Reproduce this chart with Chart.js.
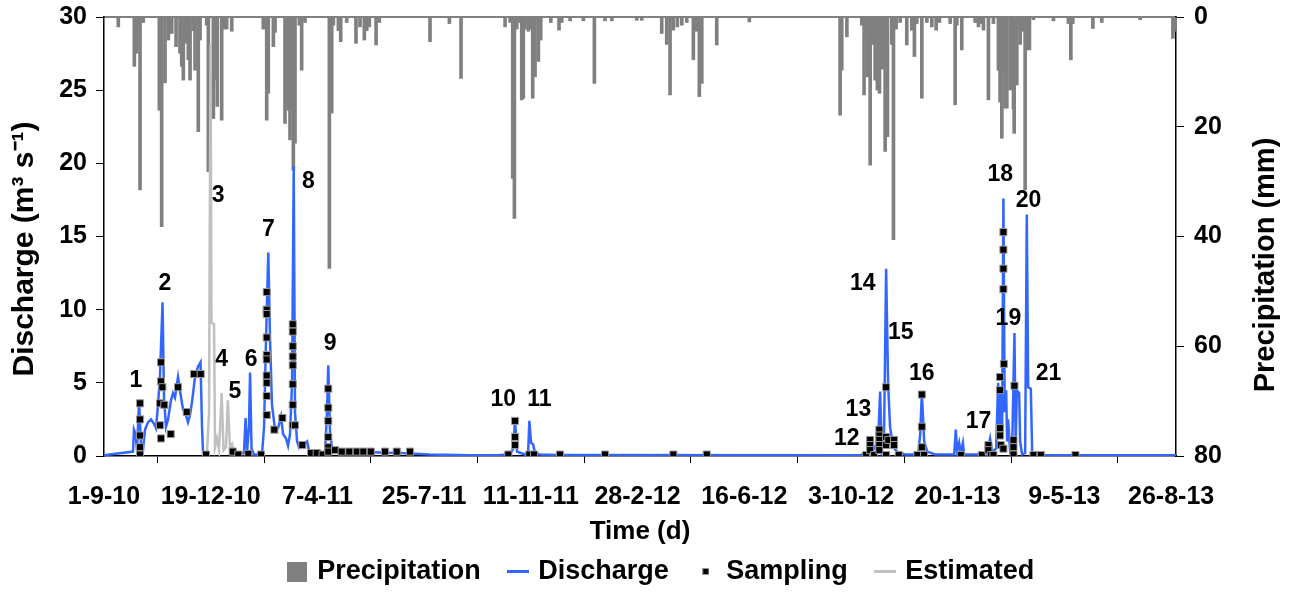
<!DOCTYPE html>
<html lang="en">
<head>
<meta charset="UTF-8">
<title>Discharge, precipitation and sampling</title>
<script src="https://cdn.jsdelivr.net/npm/chart.js"></script>
<style>
  html, body { margin: 0; padding: 0; background: #fff; }
</style>
</head>
<body>
<canvas id="flowChart" width="1298" height="592"></canvas>
<script>
// x values are days counted from 1-9-10
const tickDays = [0, 109, 218, 327, 436, 545, 654, 763, 872, 981, 1090];
const tickLabels = ['1-9-10', '19-12-10', '7-4-11', '25-7-11', '11-11-11', '28-2-12',
                    '16-6-12', '3-10-12', '20-1-13', '9-5-13', '26-8-13'];

// daily precipitation (mm), right axis
const rainDays = [14.6, 31.0, 33.4, 34.4, 36.8, 40.1, 56.5, 58.9, 62.3, 65.7, 69.2, 73.6, 77.6, 79.4,
  81.0, 83.8, 86.1, 87.9, 91.2, 93.0, 96.3, 98.1, 104.9, 106.6, 111.7, 113.4, 115.7, 120.2, 122.6,
  125.3, 130.5, 162.7, 166.2, 167.8, 173.0, 174.7, 184.9, 186.6, 188.3, 190.0, 191.8, 193.4, 195.1,
  199.5, 201.9, 205.3, 230.2, 232.6, 234.3, 239.4, 241.8, 247.9, 257.4, 261.5, 265.9, 268.4, 271.0,
  277.9, 281.2, 333.0, 352.8, 364.7, 409.7, 414.8, 417.5, 419.2, 421.6, 424.3, 426.7, 428.3, 430.1,
  433.5, 436.9, 437.9, 440.3, 443.7, 446.1, 456.4, 464.8, 467.6, 476.1, 489.7, 500.9, 511.8, 518.7,
  544.2, 549.3, 569.7, 574.8, 578.2, 581.6, 585.7, 590.2, 595.3, 602.0, 605.5, 608.1, 610.6, 625.9,
  659.2, 751.9, 753.6, 758.8, 774.1, 776.4, 778.5, 780.2, 782.6, 785.3, 787.7, 790.0, 792.1, 793.8,
  795.5, 797.9, 800.3, 804.7, 806.4, 809.1, 813.2, 820.0, 825.1, 827.8, 830.2, 835.4, 840.5, 845.6,
  850.0, 853.4, 864.3, 869.4, 871.1, 876.2, 889.8, 893.2, 896.7, 898.3, 903.4, 908.5, 913.6, 915.3,
  917.1, 919.4, 920.4, 922.2, 925.6, 927.3, 929.0, 929.7, 932.4, 934.1, 935.8, 938.5, 940.9, 942.6,
  945.3, 949.4, 969.8, 985.1, 987.6, 989.6, 1010.1, 1019.2, 1058.4, 1091.8, 1093.1];
const rainMm = [1.8, 9.0, 6.6, 2.0, 31.5, 1.0, 17.0, 38.2, 12.0, 4.2, 3.0, 5.4, 6.6, 9.0,
  11.5, 4.8, 7.8, 11.5, 2.5, 9.7, 20.9, 4.2, 1.5, 28.2, 18.5, 11.5, 16.3, 18.8, 2.2,
  2.2, 2.6, 2.2, 18.8, 13.9, 5.4, 2.8, 19.4, 15.7, 17.0, 22.4, 17.0, 27.9, 23.0,
  1.5, 9.7, 1.0, 45.8, 17.5, 1.5, 2.5, 4.5, 1.0, 4.8, 1.8, 4.2, 2.5, 1.8,
  5.1, 1.0, 4.5, 1.2, 11.2, 1.8, 1.0, 29.4, 36.7, 2.2, 1.0, 15.1, 14.8, 2.2,
  2.6, 2.2, 14.8, 10.9, 8.1, 4.2, 1.0, 2.4, 1.0, 0.7, 0.7, 12.1, 0.7, 0.7,
  0.6, 0.6, 3.0, 5.0, 14.2, 2.4, 1.8, 1.5, 1.0, 7.8, 2.6, 14.5, 12.1, 5.1,
  0.9, 17.9, 9.7, 3.6, 1.5, 14.2, 3.2, 10.9, 27.0, 5.0, 11.5, 13.3, 13.9, 7.5,
  9.5, 24.5, 21.8, 5.0, 40.6, 2.2, 1.0, 5.1, 2.4, 7.2, 1.2, 14.8, 1.0, 1.8,
  2.4, 1.0, 1.2, 16.0, 1.5, 6.0, 1.0, 1.8, 1.2, 2.4, 15.1, 1.2, 9.7, 15.5,
  22.1, 9.9, 16.6, 16.6, 13.3, 5.0, 16.8, 21.2, 12.4, 1.5, 5.0, 2.6, 31.5, 6.0,
  6.0, 0.5, 0.7, 1.2, 7.8, 1.2, 2.1, 1.0, 0.5, 3.9, 2.6];

// measured discharge (m3/s), left axis; null = gap covered by the estimate
const flowDays = [0, 29.6, 30.6, 32.2, 33.7, 35.8, 37.8, 39.8, 41.9, 44.9, 48.0, 51.1, 53.1, 55.2,
  57.2, 59.8, 61.3, 63.3, 65.4, 68.4, 70.5, 72.5, 75.6, 78.7, 80.7, 82.7, 85.8, 87.9, 89.9, 93.0,
  96.0, 98.6, 100.1, 101.1, 104.2, null,
  132.8, 138.9, 143.0, 144.6, 146.1, 148.1, 149.2, 150.7, 153.2, 161.4, 163.5, 165.5, 167.8, 169.6,
  171.6, 174.7, 177.8, 180.8, 182.9, 185.9, 188.0, 190.0, 192.1, 193.8, 195.1, 197.2, 199.2, 201.3,
  204.3, 207.4, 209.4, 213.5, 220.7, 225.8, 227.8, 229.1, 230.9, 232.9, 237.0, 246.2, 271.7, 302.4,
  333.0, 373.9, 404.6, 414.8, 417.9, 419.9, 421.9, 430.1, 433.2, 434.5, 436.2, 438.3, 440.3, 445.4,
  465.8, 772.3, 778.5, 782.6, 786.6, 790.7, 792.8, 794.3, 796.8, 798.9, 800.9, 802.9, 806.0, 810.1,
  818.3, 831.6, 833.7, 835.4, 837.8, 840.8, 849.0, 868.4, 870.1, 871.4, 873.5, 875.0, 877.3, 878.6,
  900.0, 903.1, 905.1, 907.2, 911.3, 913.3, 914.9, 916.4, 917.4, 918.7, 920.0, 921.5, 922.5, 923.5,
  925.6, 927.6, 930.0, 931.2, 932.4, 934.8, 935.8, 937.8, 940.9, 942.6, 944.0, 946.7, 948.1, 951.1,
  1095];
const flowQ = [0.05, 0.3, 1.8, 1.5, 0.4, 3.7, 0.8, 0.4, 1.8, 2.3, 2.5, 2.2, 1.9, 3.5,
  5.5, 10.5, 4.0, 2.0, 2.5, 3.8, 4.3, 4.0, 5.4, 4.0, 3.2, 3.0, 2.3, 2.8, 3.7, 5.4,
  6.1, 6.4, 2.0, 0.3, 0.1, null,
  0.2, 0.15, 0.2, 2.6, 0.3, 2.0, 5.7, 0.5, 0.1, 0.1, 2.0, 8.0, 13.9, 8.0,
  3.5, 1.8, 1.9, 2.7, 1.5, 1.2, 0.7, 1.5, 5.0, 19.8, 3.0, 1.0, 0.6, 0.9,
  0.8, 1.0, 0.4, 0.2, 0.15, 0.2, 3.0, 6.2, 1.5, 0.6, 0.4, 0.3, 0.25, 0.2,
  0.1, 0.05, 0.06, 0.1, 0.5, 2.4, 0.3, 0.1, 0.2, 2.4, 0.9, 0.8, 0.2, 0.1,
  0.07, 0.05, 0.2, 0.6, 0.5, 1.0, 4.4, 0.6, 1.5, 12.8, 5.0, 2.0, 0.6, 0.3,
  0.1, 0.1, 1.5, 4.3, 1.0, 0.3, 0.1, 0.1, 1.8, 0.3, 0.9, 0.2, 0.9, 0.1,
  0.1, 0.5, 1.2, 0.3, 0.5, 5.0, 1.5, 4.5, 2.0, 17.6, 3.0, 4.5, 1.0, 2.5,
  0.3, 0.5, 8.4, 0.5, 4.5, 4.3, 1.0, 0.1, 0.2, 16.5, 4.7, 4.6, 0.2, 0.07,
  0.05];

// estimated discharge during the gap
const estDays = [104.2, 105.2, 107.3, 108.8, 109.8, 112.4, 113.4, 115.4, 117.5, 120.2, 122.1,
  124.6, 126.5, 128.7, 130.8, 132.8];
const estQ = [0.1, 0.2, 3.0, 28.2, 9.1, 9.0, 0.6, 1.2, 0.4, 4.3, 0.4, 0.6, 3.8, 0.5, 0.8, 0.2];

// sampling times and discharge at sampling
const sampleDays = [36.8, 36.8, 36.8, 36.8, 36.8, 58.2, 58.2, 59.6, 57.2, 61.6, 57.2, 58.2,
  68.1, 75.6, 84.5, 91.9, 98.8, 104.2, 131.5, 137.2, 147.4, 160.4,
  166.2, 166.2, 166.2, 166.2, 166.2, 166.2, 166.2, 166.2, 166.2, 166.2, 174.0, 182.2,
  192.8, 192.8, 192.8, 192.8, 192.8, 192.8, 192.8, 192.8, 195.1, 202.6, 211.5, 217.3, 223.3,
  229.1, 229.1, 229.1, 229.1, 229.1, 229.1, 236.0, 242.8, 250.6, 258.2, 264.9, 272.5, 287.1,
  299.0, 312.6, 413.0, 419.9, 419.9, 419.9, 434.5, 439.3, 465.8, 511.8, 581.6, 615.7,
  778.5, 782.6, 782.6, 782.6, 786.6, 792.0, 792.0, 792.0, 792.0, 792.0, 798.9, 798.9, 798.9,
  798.9, 801.2, 807.0, 807.0, 811.8, 830.9, 835.4, 835.4, 835.4, 837.7, 875.2, 896.7, 903.4,
  903.4, 905.8, 908.5, 915.3, 915.3, 915.3, 915.3, 916.0, 918.7, 918.7, 918.7, 918.7, 918.7,
  919.2, 929.0, 929.0, 929.0, 930.0, 949.4, 956.9, 992.3];
const sampleQ = [3.6, 2.5, 1.4, 0.6, 0.1, 6.4, 5.1, 4.7, 3.6, 3.5, 2.1, 1.2,
  1.5, 4.7, 3.0, 5.6, 5.6, 0.1, 0.3, 0.1, 0.15, 0.1,
  11.2, 10.0, 9.7, 8.1, 6.9, 6.6, 5.5, 5.0, 4.1, 2.8, 1.8, 2.6,
  9.0, 8.5, 7.5, 6.8, 6.2, 4.9, 3.5, 2.1, 2.1, 0.75, 0.2, 0.2, 0.1,
  4.6, 3.3, 2.4, 1.3, 0.6, 0.3, 0.4, 0.3, 0.3, 0.3, 0.3, 0.3, 0.3,
  0.3, 0.3, 0.1, 2.4, 1.3, 0.75, 0.1, 0.1, 0.1, 0.1, 0.1, 0.1,
  0.07, 1.1, 0.75, 0.4, 0.07, 1.8, 1.4, 1.1, 0.75, 0.4, 4.7, 1.3, 0.75,
  0.07, 1.1, 1.1, 0.75, 0.07, 0.07, 4.2, 2.0, 0.6, 0.07, 0.07, 0.07, 0.75,
  0.4, 0.07, 0.07, 5.4, 4.5, 1.9, 1.4, 0.75, 15.3, 14.1, 12.8, 11.4, 0.5,
  6.3, 1.1, 0.6, 0.1, 4.8, 0.07, 0.07, 0.07];

// event numbers written next to the peaks
const eventNames = ['1', '2', '3', '4', '5', '6', '7', '8', '9', '10', '11',
  '12', '13', '14', '15', '16', '17', '18', '19', '20', '21'];
const eventDays = [32.7, 62.3, 116.5, 120.2, 133.8, 150.2, 167.8, 208.7, 230.9, 407.9, 444.7,
  758.8, 770.6, 775.1, 813.9, 835.4, 893.2, 915.4, 923.8, 944.3, 964.7];
const eventQ = [5.13, 11.8, 17.8, 6.56, 4.4, 6.56, 15.45, 18.75, 7.7, 3.83, 3.83,
  1.2, 3.14, 11.8, 8.4, 5.6, 2.34, 19.2, 9.4, 17.45, 5.65];

const FONT = '"Liberation Sans", Arial, sans-serif';
const tickFont = { family: FONT, size: 25, weight: 'bold' };

function toPoints(xs, ys) {
  return xs.map((x, i) => ({ x: x, y: ys[i] }));
}

// small canvases used as legend symbols
function legendIcon(w, h, fill, stroke) {
  const c = document.createElement('canvas');
  c.width = w;
  c.height = h;
  const g = c.getContext('2d');
  g.fillStyle = fill;
  g.fillRect(0, 0, w, h);
  if (stroke) {
    g.strokeStyle = stroke;
    g.lineWidth = 1;
    g.strokeRect(0.5, 0.5, w - 1, h - 1);
  }
  return c;
}

const legendItems = [
  { text: 'Precipitation', icon: legendIcon(20, 20, '#808080'), ds: 0 },
  { text: 'Discharge', icon: legendIcon(22, 3, '#3366ff'), ds: 1 },
  { text: 'Sampling', icon: legendIcon(7, 7, '#000', '#999'), ds: 2 },
  { text: 'Estimated', icon: legendIcon(22, 3, '#c0c0c0'), ds: 3 }
];

// numbers 1..21 on the peaks
const eventLabels = {
  id: 'eventLabels',
  afterDatasetsDraw(chart) {
    const { ctx, scales } = chart;
    ctx.save();
    ctx.font = 'bold 23px ' + FONT;
    ctx.fillStyle = '#000';
    ctx.textAlign = 'center';
    ctx.textBaseline = 'middle';
    eventNames.forEach((name, i) => {
      ctx.fillText(name, scales.x.getPixelForValue(eventDays[i]), scales.y.getPixelForValue(eventQ[i]));
    });
    ctx.restore();
  }
};

// both vertical titles read bottom to top
const sideTitles = {
  id: 'sideTitles',
  afterDraw(chart) {
    const { ctx } = chart;
    const put = (text, size, x, y) => {
      ctx.save();
      ctx.font = 'bold ' + size + 'px ' + FONT;
      ctx.translate(x, y);
      ctx.rotate(-Math.PI / 2);
      ctx.fillText(text, 0, 0);
      ctx.restore();
    };
    ctx.save();
    ctx.fillStyle = '#000';
    ctx.textAlign = 'center';
    ctx.textBaseline = 'middle';
    put('Discharge (m³ s⁻¹)', 30, 25, 249);
    put('Precipitation (mm)', 29, 1266, 265);
    ctx.restore();
  }
};

// legend sits a little right of the page centre and a bit lower
const legendShift = {
  id: 'legendShift',
  afterLayout(chart) {
    chart.legend.left += 13;
    chart.legend.right += 13;
    chart.legend.top += 3;
    chart.legend.bottom += 3;
  }
};

new Chart(document.getElementById('flowChart'), {
  type: 'line',
  data: {
    datasets: [
      {
        type: 'bar',
        label: 'Precipitation',
        data: toPoints(rainDays, rainMm),
        yAxisID: 'y2',
        backgroundColor: '#808080',
        barThickness: 3,
        order: 3
      },
      {
        label: 'Discharge',
        data: toPoints(flowDays, flowQ),
        yAxisID: 'y',
        borderColor: '#3366ff',
        borderWidth: 2.5,
        pointRadius: 0,
        tension: 0,
        spanGaps: false,
        order: 2
      },
      {
        label: 'Sampling',
        data: toPoints(sampleDays, sampleQ),
        yAxisID: 'y',
        showLine: false,
        pointStyle: 'rect',
        pointRadius: 5,
        pointBackgroundColor: '#000',
        pointBorderColor: '#999',
        pointBorderWidth: 1,
        order: 0
      },
      {
        label: 'Estimated',
        data: toPoints(estDays, estQ),
        yAxisID: 'y',
        borderColor: '#c0c0c0',
        borderWidth: 2.5,
        pointRadius: 0,
        tension: 0,
        order: 1
      }
    ]
  },
  options: {
    responsive: false,
    animation: false,
    layout: { padding: { top: 17, left: 0, right: 0, bottom: 0 } },
    plugins: {
      tooltip: { enabled: false },
      legend: {
        position: 'bottom',
        labels: {
          usePointStyle: true,
          boxWidth: 14,
          padding: 30,
          color: '#000',
          font: { family: FONT, size: 27, weight: 'bold' },
          generateLabels: () => legendItems.map(it => ({
            text: it.text,
            pointStyle: it.icon,
            datasetIndex: it.ds,
            fillStyle: '#000',
            strokeStyle: '#000',
            lineWidth: 0,
            hidden: false
          }))
        }
      }
    },
    scales: {
      x: {
        type: 'linear',
        min: 0,
        max: 1095,
        offset: false,
        afterBuildTicks: s => { s.ticks = tickDays.map(v => ({ value: v })); },
        afterFit: s => { s.height = 69; },
        ticks: {
          autoSkip: false,
          maxRotation: 0,
          padding: 19,
          color: '#000',
          font: tickFont,
          callback: v => tickLabels[tickDays.indexOf(v)]
        },
        grid: { drawOnChartArea: false, drawTicks: true, tickLength: 7, color: '#000' },
        border: { color: '#000', width: 1.5 },
        title: {
          display: true,
          text: 'Time (d)',
          color: '#000',
          padding: { top: 0, bottom: -20 },
          font: { family: FONT, size: 26, weight: 'bold', lineHeight: 1 }
        }
      },
      xTop: {
        type: 'linear',
        position: 'top',
        min: 0,
        max: 1095,
        ticks: { display: false },
        grid: { display: false },
        border: { color: '#808080', width: 2 },
        afterFit: s => { s.height = 0; }
      },
      y: {
        position: 'left',
        min: 0,
        max: 30,
        ticks: { stepSize: 5, padding: 9, color: '#000', font: tickFont },
        grid: { drawOnChartArea: false, tickLength: 8, color: '#000' },
        border: { color: '#000', width: 1.5 },
        afterFit: s => { s.width = 104; s.paddingTop = 0; s.paddingBottom = 0; }
      },
      y2: {
        position: 'right',
        min: 0,
        max: 80,
        reverse: true,
        ticks: { stepSize: 20, padding: 10, color: '#000', font: tickFont },
        grid: { drawOnChartArea: false, tickLength: 8, color: '#000' },
        border: { color: '#000', width: 1.5 },
        afterFit: s => { s.width = 122; s.paddingTop = 0; s.paddingBottom = 0; }
      }
    }
  },
  plugins: [eventLabels, sideTitles, legendShift]
});
</script>
</body>
</html>
